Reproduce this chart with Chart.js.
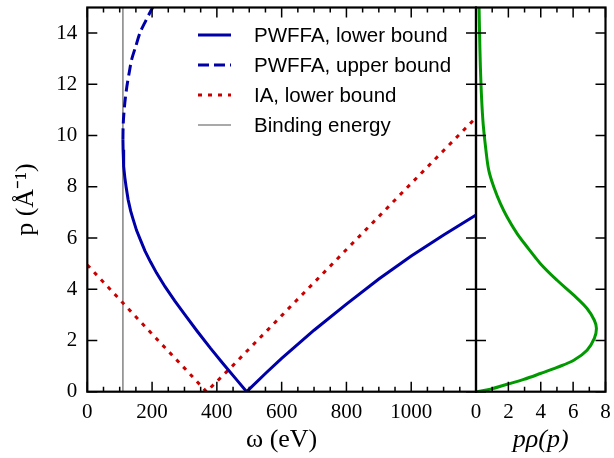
<!DOCTYPE html>
<html>
<head>
<meta charset="utf-8">
<script src="https://cdn.jsdelivr.net/npm/chart.js@4.4.1/dist/chart.umd.min.js"></script>
<style>
  html, body { margin: 0; padding: 0; background: #fff; }
  #wrap { position: relative; width: 614px; height: 458px; }
  canvas { position: absolute; top: 0; }
  #main { left: 0; }
  #side { left: 440px; }
</style>
</head>
<body>
<div id="wrap">
  <canvas id="main" width="480" height="458"></canvas>
  <canvas id="side" width="174" height="458"></canvas>
</div>
<script>
// axis ranges and tick labels
const omegaRange = [0, 1200]
const omegaTicks = [0, 200, 400, 600, 800, 1000]
const pRange = [0, 15]
const pTicks = [0, 2, 4, 6, 8, 10, 12, 14]
const densityRange = [0, 8]
const densityTicks = [0, 2, 4, 6, 8]

// binding energy (eV)
const bindingEnergy = 110

// PWFFA, lower bound
const pwffaLowerW = [110, 110.5, 111.5, 113, 116, 120, 126, 134, 142, 152, 164, 178, 195, 214, 240, 270, 300, 340, 380, 420, 460, 492,
  554, 600, 700, 800, 900, 1000, 1100, 1200]
const pwffaLowerP = [9.85, 9.45, 9.1, 8.8, 8.35, 7.98, 7.5, 7.05, 6.71, 6.3, 5.93, 5.5, 5.07, 4.63, 4.1, 3.55, 3.03, 2.35, 1.7, 1.08, 0.48, 0,
  0.76, 1.3, 2.4, 3.42, 4.4, 5.3, 6.12, 6.9]

// PWFFA, upper bound
const pwffaUpperW = [110, 110.5, 112, 116, 122, 130, 137, 150, 163, 180, 200, 215]
const pwffaUpperP = [9.85, 10.3, 10.7, 11.3, 11.9, 12.5, 12.97, 13.5, 14.02, 14.47, 14.96, 15.3]

// IA, lower bound
const iaW = [0, 100, 200, 300, 368, 450, 600, 800, 1000, 1200]
const iaP = [4.95, 3.6, 2.25, 0.92, 0, 1.03, 2.97, 5.55, 8.13, 10.7]

// momentum density p*rho(p)
const densityP = [0, 0.1, 0.29, 0.48, 0.71, 0.95, 1.23, 1.62, 2.08, 2.47, 2.79, 3.25, 3.77, 4.35, 5.0, 5.65, 6.17, 6.82, 7.34, 7.99, 8.64,
  9.5, 10.4, 11.4, 12.7, 14.0, 15.0]
const densityV = [0, 0.9, 1.92, 2.95, 3.98, 5.01, 6.04, 6.86, 7.31, 7.44, 7.31, 6.86, 6.04, 5.01, 3.98, 3.16, 2.54, 1.92, 1.51, 1.1, 0.79,
  0.6, 0.45, 0.35, 0.27, 0.22, 0.19]

const blue = '#0000a8'
const red = '#c80000'
const green = '#009a00'

Chart.defaults.font.family = '"Liberation Serif", serif'
Chart.defaults.color = '#000'
Chart.defaults.animation = false

function pts(xs, ys) {
  return xs.map((x, i) => ({x: x, y: ys[i]}))
}

function every(step, from, to, skip) {
  let out = []
  for (let v = from; v <= to + 1e-9; v += step) {
    if (v % skip != 0) out.push(v)
  }
  return out
}

function noPad(scale) {
  scale.paddingTop = 0
  scale.paddingBottom = 0
  scale.paddingLeft = 0
  scale.paddingRight = 0
}

// inward ticks on all four sides plus the frame
const innerTicks = {
  id: 'innerTicks',
  afterDatasetsDraw(chart, args, opts) {
    const {ctx, chartArea: a, scales} = chart
    ctx.save()
    ctx.strokeStyle = '#000'
    ctx.lineWidth = 1.5
    ctx.beginPath()
    const xTick = (v, len) => {
      const px = scales.x.getPixelForValue(v)
      ctx.moveTo(px, a.bottom); ctx.lineTo(px, a.bottom - len)
      ctx.moveTo(px, a.top); ctx.lineTo(px, a.top + len)
    }
    const yTick = (v, len) => {
      const py = scales.y.getPixelForValue(v)
      ctx.moveTo(a.left, py); ctx.lineTo(a.left + len, py)
      ctx.moveTo(a.right, py); ctx.lineTo(a.right - len, py)
    }
    opts.xMajor.forEach(v => xTick(v, 10))
    opts.xMinor.forEach(v => xTick(v, 5))
    opts.yMajor.forEach(v => yTick(v, 10))
    ctx.stroke()
    ctx.lineWidth = 2.2
    ctx.strokeRect(a.left, a.top, a.right - a.left, a.bottom - a.top)
    ctx.restore()
  }
}

// legend drawn inside the plot area
const innerLegend = {
  id: 'innerLegend',
  afterDraw(chart, args, opts) {
    if (!opts.show) return
    const {ctx, chartArea: a} = chart
    ctx.save()
    ctx.font = '20.5px "Liberation Sans", sans-serif'
    ctx.textBaseline = 'middle'
    chart.data.datasets.forEach((ds, i) => {
      const y = a.top + 27.5 + i * 30
      const x0 = a.left + 110.7
      ctx.strokeStyle = ds.borderColor
      ctx.lineWidth = ds.borderWidth
      ctx.setLineDash(ds.borderDash || [])
      ctx.beginPath()
      ctx.moveTo(x0, y)
      ctx.lineTo(x0 + 33, y)
      ctx.stroke()
      ctx.setLineDash([])
      ctx.fillStyle = '#000'
      ctx.fillText(ds.label, x0 + 56, y + 1)
    })
    ctx.restore()
  }
}

const mainChart = new Chart(document.getElementById('main'), {
  type: 'scatter',
  data: {
    datasets: [
      {
        label: 'PWFFA, lower bound',
        data: pts(pwffaLowerW, pwffaLowerP),
        showLine: true, borderColor: blue, borderWidth: 3, pointRadius: 0, tension: 0
      },
      {
        label: 'PWFFA, upper bound',
        data: pts(pwffaUpperW, pwffaUpperP),
        showLine: true, borderColor: blue, borderWidth: 3, borderDash: [11, 5], pointRadius: 0, tension: 0.3
      },
      {
        label: 'IA, lower bound',
        data: pts(iaW, iaP),
        showLine: true, borderColor: red, borderWidth: 3, borderDash: [4, 6], pointRadius: 0, tension: 0
      },
      {
        label: 'Binding energy',
        data: pts([bindingEnergy, bindingEnergy], pRange),
        showLine: true, borderColor: '#555555', borderWidth: 1.1, pointRadius: 0, order: 5
      }
    ]
  },
  options: {
    responsive: false,
    devicePixelRatio: 1,
    layout: { padding: { left: 0, top: 7.5, right: 4, bottom: 0 } },
    plugins: {
      legend: { display: false },
      tooltip: { enabled: false },
      innerLegend: { show: true },
      innerTicks: {
        xMajor: omegaTicks.concat([1200]),
        xMinor: every(50, 50, 1150, 200),
        yMajor: pTicks
      }
    },
    scales: {
      x: {
        type: 'linear', min: omegaRange[0], max: omegaRange[1],
        grid: { display: false, drawTicks: false },
        border: { display: false },
        ticks: { font: { size: 21 }, padding: 8, maxRotation: 0, callback: (v) => String(v) },
        afterBuildTicks: (scale) => { scale.ticks = omegaTicks.map(v => ({value: v})) },
        afterFit: (scale) => { scale.height = 66.3; noPad(scale) },
        title: { display: true, text: 'ω (eV)', font: { size: 26, lineHeight: 1 }, padding: { top: 0, bottom: 5 } }
      },
      y: {
        type: 'linear', min: pRange[0], max: pRange[1],
        grid: { display: false, drawTicks: false },
        border: { display: false },
        ticks: { font: { size: 21 }, padding: 10, callback: (v) => String(v) },
        afterBuildTicks: (scale) => { scale.ticks = pTicks.map(v => ({value: v})) },
        afterFit: (scale) => { scale.width = 87.3; noPad(scale) },
        title: { display: true, text: 'p (Å⁻¹)', font: { size: 26, lineHeight: 1 }, padding: { top: 13, bottom: 0 } }
      }
    }
  },
  plugins: [innerTicks, innerLegend]
})

const sideChart = new Chart(document.getElementById('side'), {
  type: 'scatter',
  data: {
    datasets: [
      {
        label: 'pρ(p)',
        data: pts(densityV, densityP),
        showLine: true, borderColor: green, borderWidth: 3, pointRadius: 0, tension: 0.35
      }
    ]
  },
  options: {
    responsive: false,
    devicePixelRatio: 1,
    layout: { padding: { left: 36, top: 7.5, right: 8.5, bottom: 0 } },
    plugins: {
      legend: { display: false },
      tooltip: { enabled: false },
      innerLegend: { show: false },
      innerTicks: {
        xMajor: densityTicks,
        xMinor: [1, 3, 5, 7],
        yMajor: pTicks
      }
    },
    scales: {
      x: {
        type: 'linear', min: densityRange[0], max: densityRange[1],
        grid: { display: false, drawTicks: false },
        border: { display: false },
        ticks: { font: { size: 21 }, padding: 8, maxRotation: 0, callback: (v) => String(v) },
        afterBuildTicks: (scale) => { scale.ticks = densityTicks.map(v => ({value: v})) },
        afterFit: (scale) => { scale.height = 66.3; noPad(scale) },
        title: { display: true, text: 'pρ(p)', font: { size: 26, style: 'italic', lineHeight: 1 }, padding: { top: 0, bottom: 5 } }
      },
      y: {
        type: 'linear', min: pRange[0], max: pRange[1],
        display: false
      }
    }
  },
  plugins: [innerTicks, innerLegend]
})
</script>
</body>
</html>
